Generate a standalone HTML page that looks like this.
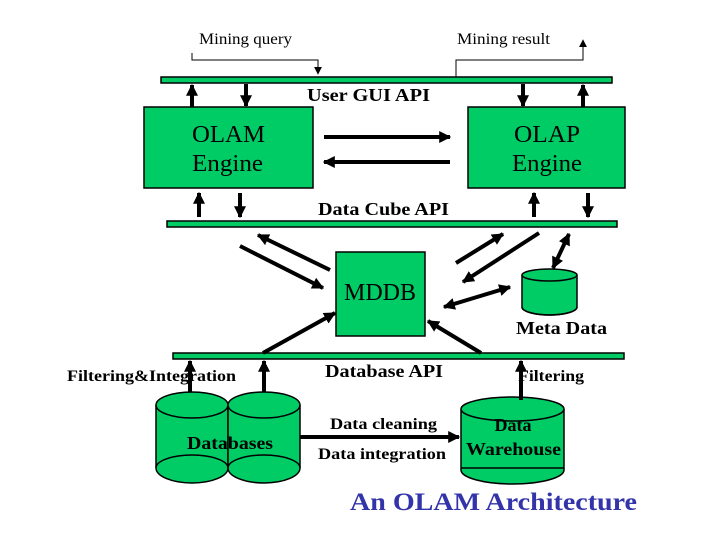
<!DOCTYPE html>
<html><head><meta charset="utf-8"><style>
html,body{margin:0;padding:0;background:#fff;}
svg{display:block;}
text{font-family:"Liberation Serif",serif;fill:#000;}
</style></head><body>
<svg width="720" height="540" viewBox="0 0 720 540" xmlns="http://www.w3.org/2000/svg">
<defs>
<marker id="h" viewBox="0 0 10 10" refX="9" refY="5" markerWidth="3" markerHeight="3" orient="auto-start-reverse" markerUnits="strokeWidth">
<path d="M0,0 L10,5 L0,10 z" fill="#000"/></marker>
<marker id="hs" viewBox="0 0 10 10" refX="9" refY="5" markerWidth="8" markerHeight="8" orient="auto" markerUnits="userSpaceOnUse">
<path d="M0,0 L10,5 L0,10 z" fill="#000"/></marker>
</defs>
<g fill="#00cc66" stroke="#000" stroke-width="1.5">
<rect x="161" y="77" width="451" height="6"/>
<rect x="167" y="221" width="450" height="6"/>
<rect x="173" y="353" width="451" height="6"/>
<rect x="144" y="107" width="169" height="81"/>
<rect x="468" y="107" width="157" height="81"/>
<rect x="336" y="252" width="89" height="84"/>
<path d="M522,275 L522,307 A27.5,8 0 0 0 577,307 L577,275"/>
<ellipse cx="549.5" cy="275" rx="27.5" ry="6"/>
<path d="M522,307 A27.5,8 0 0 0 577,307" fill="none"/>
<path d="M156,405 L156,468 A36,15 0 0 0 228,468 L228,405"/>
<ellipse cx="192" cy="405" rx="36" ry="13"/>
<path d="M156,468 A36,13 0 0 1 228,468" fill="none"/>
<path d="M228,405 L228,468 A36,15 0 0 0 300,468 L300,405"/>
<ellipse cx="264" cy="405" rx="36" ry="13"/>
<path d="M228,468 A36,13 0 0 1 300,468" fill="none"/>
<path d="M461,409 L461,470 A51.5,14 0 0 0 564,470 L564,409"/>
<ellipse cx="512.5" cy="409" rx="51.5" ry="12"/>
<line x1="461" y1="468" x2="564" y2="468"/>
</g>
<g fill="none" stroke="#000" stroke-width="1">
<path d="M192,53 L192,60 L318,60 L318,74" marker-end="url(#hs)"/>
<path d="M456,77 L456,60 L583,60 L583,40" marker-end="url(#hs)"/>
</g>
<g stroke="#000" stroke-width="4" fill="none">
<line x1="192" y1="107" x2="192" y2="85" marker-end="url(#h)"/>
<line x1="246" y1="84" x2="246" y2="106" marker-end="url(#h)"/>
<line x1="523" y1="84" x2="523" y2="106" marker-end="url(#h)"/>
<line x1="583" y1="107" x2="583" y2="85" marker-end="url(#h)"/>
<line x1="324" y1="137" x2="450" y2="137" marker-end="url(#h)"/>
<line x1="450" y1="162" x2="324" y2="162" marker-end="url(#h)"/>
<line x1="199" y1="217" x2="199" y2="193" marker-end="url(#h)"/>
<line x1="240" y1="193" x2="240" y2="217" marker-end="url(#h)"/>
<line x1="534" y1="217" x2="534" y2="193" marker-end="url(#h)"/>
<line x1="588" y1="193" x2="588" y2="217" marker-end="url(#h)"/>
<line x1="240" y1="246" x2="323" y2="288" marker-end="url(#h)"/>
<line x1="330" y1="270" x2="258" y2="235" marker-end="url(#h)"/>
<line x1="456" y1="263" x2="503" y2="234" marker-end="url(#h)"/>
<line x1="539" y1="233" x2="463" y2="282" marker-end="url(#h)"/>
<line x1="444" y1="307" x2="510" y2="287" marker-start="url(#h)" marker-end="url(#h)"/>
<line x1="553" y1="268" x2="569" y2="234" marker-start="url(#h)" marker-end="url(#h)"/>
<line x1="263" y1="353" x2="335" y2="313" marker-end="url(#h)"/>
<line x1="481" y1="353" x2="428" y2="321" marker-end="url(#h)"/>
<line x1="190" y1="392" x2="190" y2="361" marker-end="url(#h)"/>
<line x1="264" y1="392" x2="264" y2="361" marker-end="url(#h)"/>
<line x1="521" y1="400" x2="521" y2="361" marker-end="url(#h)"/>
<line x1="300" y1="437" x2="459" y2="437" marker-end="url(#h)"/>
</g>
<g lengthAdjust="spacingAndGlyphs">
<text x="199" y="44" font-size="16" textLength="93" lengthAdjust="spacingAndGlyphs">Mining query</text>
<text x="457" y="44" font-size="16" textLength="93" lengthAdjust="spacingAndGlyphs">Mining result</text>
<text x="307" y="101" font-size="18" font-weight="bold" textLength="123" lengthAdjust="spacingAndGlyphs">User GUI API</text>
<text x="192" y="142" font-size="24" textLength="73" lengthAdjust="spacingAndGlyphs">OLAM</text>
<text x="192" y="171" font-size="24" textLength="71" lengthAdjust="spacingAndGlyphs">Engine</text>
<text x="514" y="142" font-size="24" textLength="66" lengthAdjust="spacingAndGlyphs">OLAP</text>
<text x="512" y="171" font-size="24" textLength="70" lengthAdjust="spacingAndGlyphs">Engine</text>
<text x="318" y="215" font-size="18" font-weight="bold" textLength="131" lengthAdjust="spacingAndGlyphs">Data Cube API</text>
<text x="344" y="300" font-size="24" textLength="72" lengthAdjust="spacingAndGlyphs">MDDB</text>
<text x="516" y="334" font-size="18" font-weight="bold" textLength="91" lengthAdjust="spacingAndGlyphs">Meta Data</text>
<text x="67" y="381" font-size="16" font-weight="bold" textLength="169" lengthAdjust="spacingAndGlyphs">Filtering&amp;Integration</text>
<text x="325" y="377" font-size="18" font-weight="bold" textLength="118" lengthAdjust="spacingAndGlyphs">Database API</text>
<text x="518" y="381" font-size="16" font-weight="bold" textLength="66" lengthAdjust="spacingAndGlyphs">Filtering</text>
<text x="330" y="429" font-size="16" font-weight="bold" textLength="107" lengthAdjust="spacingAndGlyphs">Data cleaning</text>
<text x="318" y="459" font-size="16" font-weight="bold" textLength="128" lengthAdjust="spacingAndGlyphs">Data integration</text>
<text x="187" y="449" font-size="18" font-weight="bold" textLength="86" lengthAdjust="spacingAndGlyphs">Databases</text>
<text x="513" y="431" font-size="18" font-weight="bold" text-anchor="middle">Data</text>
<text x="466" y="455" font-size="18" font-weight="bold" textLength="95" lengthAdjust="spacingAndGlyphs">Warehouse</text>
<text x="350" y="510" font-size="25" font-weight="bold" style="fill:#3333aa" textLength="287" lengthAdjust="spacingAndGlyphs">An OLAM Architecture</text>
</g>
</svg>
</body></html>
